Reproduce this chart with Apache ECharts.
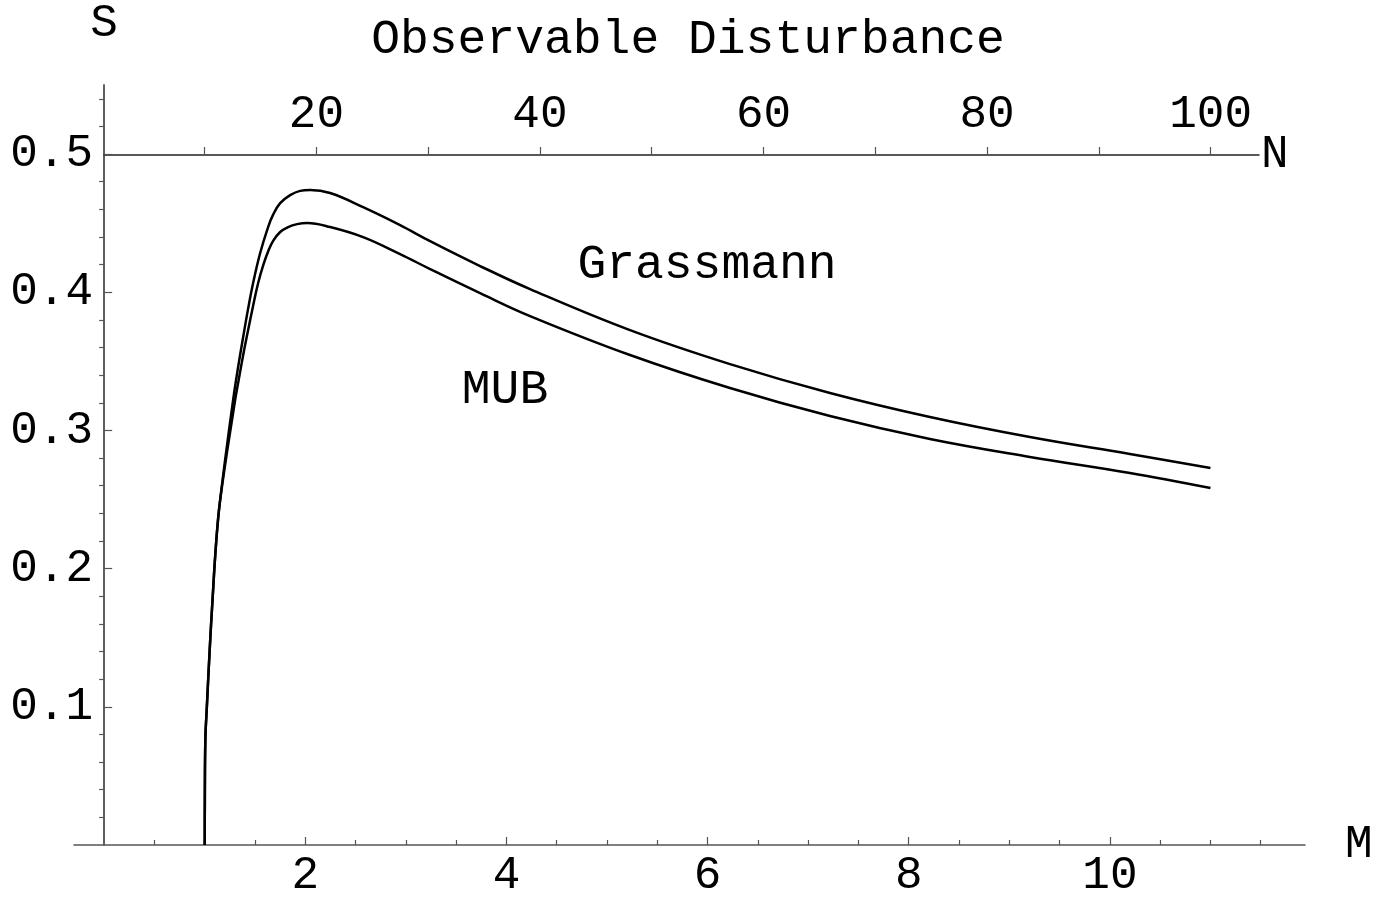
<!DOCTYPE html>
<html>
<head>
<meta charset="utf-8">
<title>Observable Disturbance</title>
<script src="https://cdn.jsdelivr.net/npm/echarts@6/dist/echarts.min.js"></script>
<style>
  html, body { margin: 0; padding: 0; background: #fff; }
  #chart { width: 1376px; height: 897px; }
</style>
</head>
<body>
<div id="chart"></div>
<script>
// curves: M on the bottom axis, S on the left axis
const grassmannM = [1.0, 1.001, 1.006, 1.021, 1.049, 1.077, 1.113, 1.153, 1.282, 1.332, 1.382, 1.431, 1.481, 1.551, 1.63, 1.68,
  1.75, 1.849, 1.948, 2.048, 2.2465, 2.5746, 2.9423, 3.2406, 3.7376, 4.2346, 5.2286, 6.2227, 7.2167, 8.2107, 9.2048, 10.1988, 11.0]
const grassmannS = [0.0, 0.033, 0.076, 0.1, 0.141, 0.177, 0.2185, 0.2496, 0.322, 0.3459, 0.3676, 0.388, 0.4067, 0.4284, 0.4472, 0.4562,
  0.4645, 0.4703, 0.4734, 0.474, 0.4718, 0.4616, 0.4486, 0.437, 0.419, 0.4023, 0.3726, 0.348, 0.3271, 0.3097, 0.2952, 0.2829, 0.2728]
const mubM = [1.0, 1.001, 1.006, 1.021, 1.049, 1.077, 1.113, 1.153, 1.302, 1.332, 1.382, 1.431, 1.481, 1.531, 1.581, 1.63, 1.68,
  1.75, 1.829, 1.918, 2.018, 2.2465, 2.5746, 2.9423, 3.2406, 3.7376, 4.2346, 5.2286, 6.2227, 7.2167, 8.2107, 9.2048, 10.1988, 11.0]
const mubS = [0.0, 0.033, 0.076, 0.1, 0.141, 0.177, 0.2185, 0.2496, 0.322, 0.3343, 0.3545, 0.3726, 0.3903, 0.4067, 0.4195, 0.4295, 0.4372,
  0.4436, 0.4472, 0.4493, 0.4501, 0.4472, 0.4399, 0.4276, 0.4168, 0.3994, 0.3828, 0.3546, 0.3307, 0.3104, 0.2938, 0.2808, 0.2692, 0.2583]

// tick labels
const mMajorTicks = [2, 4, 6, 8, 10]
const mMinorTicks = [0.5, 1, 1.5, 2.5, 3, 3.5, 4.5, 5, 5.5, 6.5, 7, 7.5, 8.5, 9, 9.5, 10.5, 11, 11.5]
const sMajorTicks = [0.1, 0.2, 0.3, 0.4, 0.5]
const sMinorTicks = [0.02, 0.04, 0.06, 0.08, 0.12, 0.14, 0.16, 0.18, 0.22, 0.24, 0.26, 0.28,
  0.32, 0.34, 0.36, 0.38, 0.42, 0.44, 0.46, 0.48, 0.52, 0.54]
const nTicks = [10, 20, 30, 40, 50, 60, 70, 80, 90, 100]
const nLabels = [20, 40, 60, 80, 100]

const FONT = '"Liberation Mono", "DejaVu Sans Mono", monospace'
const labelStyle = {color: '#000', fontFamily: FONT, fontSize: 46}
const textFont = '48px ' + FONT

const chart = echarts.init(document.getElementById('chart'), null, {renderer: 'canvas'})

const option = {
  backgroundColor: '#fff',
  animation: false,
  grid: [
    // main plot, M from -0.3 to 11.94, S from 0 to 0.55
    {left: 74, right: 71, top: 85, bottom: 52, outerBoundsMode: 'none'},
    // top N axis sitting on S = 0.5
    {left: 104, top: 154, width: 1155, height: 1, outerBoundsMode: 'none'}
  ],
  xAxis: [
    {
      type: 'value', gridIndex: 0, position: 'bottom',
      min: -0.3, max: 11.94,
      name: 'M', nameLocation: 'end', nameGap: 40,
      nameTextStyle: labelStyle,
      axisLine: {onZero: true, lineStyle: {color: '#555', width: 1.5}},
      axisTick: {inside: true, length: 8, customValues: mMajorTicks, lineStyle: {color: '#555', width: 1.2}},
      axisLabel: {customValues: mMajorTicks, margin: 8, ...labelStyle},
      splitLine: {show: false}
    },
    {
      // minor ticks of M
      type: 'value', gridIndex: 0, position: 'bottom',
      min: -0.3, max: 11.94,
      axisLine: {show: false},
      axisTick: {inside: true, length: 5, customValues: mMinorTicks, lineStyle: {color: '#555', width: 1.2}},
      axisLabel: {show: false},
      splitLine: {show: false}
    },
    {
      type: 'value', gridIndex: 1, position: 'top',
      min: 1, max: 104.33,
      name: 'N', nameLocation: 'end', nameGap: 2,
      nameTextStyle: labelStyle,
      axisLine: {lineStyle: {color: '#222', width: 1.5}},
      axisTick: {inside: false, length: 8, customValues: nTicks, lineStyle: {color: '#555', width: 1.2}},
      axisLabel: {customValues: nLabels, margin: 16, ...labelStyle},
      splitLine: {show: false}
    }
  ],
  yAxis: [
    {
      type: 'value', gridIndex: 0,
      min: 0, max: 0.55,
      name: 'S', nameLocation: 'end', nameGap: 38,
      nameTextStyle: labelStyle,
      axisLine: {show: true, onZero: true, onZeroAxisIndex: 0, lineStyle: {color: '#555', width: 1.5}},
      axisTick: {inside: true, length: 8, customValues: sMajorTicks, lineStyle: {color: '#555', width: 1.2}},
      // labels stay at the grid edge, so pull them in to sit beside the axis line at M = 0
      axisLabel: {customValues: sMajorTicks, margin: -19, formatter: v => v.toFixed(1), ...labelStyle},
      splitLine: {show: false}
    },
    {
      // minor ticks of S
      type: 'value', gridIndex: 0,
      min: 0, max: 0.55,
      axisLine: {show: true, onZero: true, onZeroAxisIndex: 0, lineStyle: {color: '#555', width: 1.5}},
      axisTick: {inside: true, length: 5, customValues: sMinorTicks, lineStyle: {color: '#555', width: 1.2}},
      axisLabel: {show: false},
      splitLine: {show: false}
    },
    {type: 'value', gridIndex: 1, show: false, min: 0, max: 1}
  ],
  graphic: [
    {type: 'text', x: 688, y: 40, style: {text: 'Observable Disturbance', fill: '#000', font: textFont, align: 'center', verticalAlign: 'middle'}},
    {type: 'text', x: 707, y: 265, style: {text: 'Grassmann', fill: '#000', font: textFont, align: 'center', verticalAlign: 'middle'}},
    {type: 'text', x: 505, y: 390, style: {text: 'MUB', fill: '#000', font: textFont, align: 'center', verticalAlign: 'middle'}}
  ],
  series: [
    {
      name: 'Grassmann', type: 'line', xAxisIndex: 0, yAxisIndex: 0,
      data: grassmannM.map((m, i) => [m, grassmannS[i]]),
      showSymbol: false, smooth: 0.4, silent: true,
      lineStyle: {color: '#000', width: 2.5}
    },
    {
      name: 'MUB', type: 'line', xAxisIndex: 0, yAxisIndex: 0,
      data: mubM.map((m, i) => [m, mubS[i]]),
      showSymbol: false, smooth: 0.4, silent: true,
      lineStyle: {color: '#000', width: 2.5}
    }
  ]
}

chart.setOption(option)
</script>
</body>
</html>
